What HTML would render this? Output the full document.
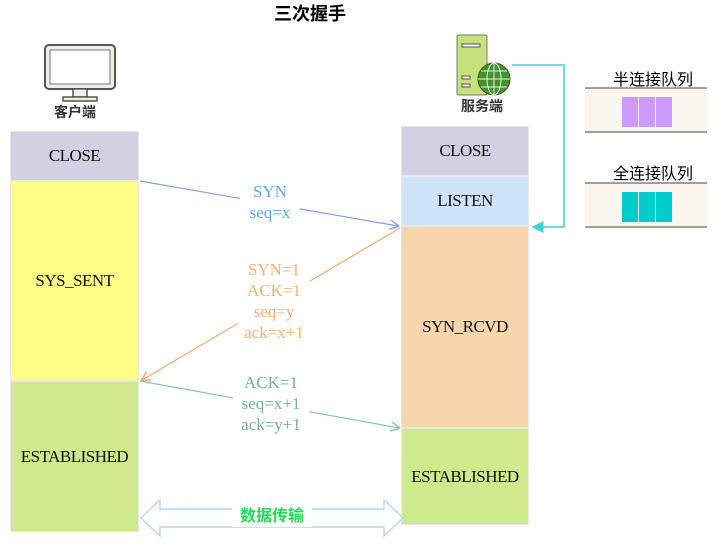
<!DOCTYPE html>
<html><head><meta charset="utf-8"><style>
body{margin:0;width:726px;height:553px;background:#fff;overflow:hidden;position:relative;font-family:"Liberation Serif","Noto Serif CJK SC",serif}
.b{position:absolute;display:flex;align-items:center;justify-content:center;font-size:17px;color:#111;box-sizing:border-box;border:1px solid #e8e8e8;letter-spacing:-0.5px}
.t{position:absolute;text-align:center;font-size:17px;line-height:21px}
.cn{font-family:"Liberation Sans","Noto Sans CJK SC",sans-serif;font-weight:bold}
</style></head><body>
<div class="t cn" style="left:250px;top:4px;width:120px;font-size:18px">三次握手</div>
<div class="b" style="left:10px;top:131px;width:129px;height:50px;background:#d4d0e4">CLOSE</div>
<div class="b" style="left:10px;top:181px;width:129px;height:200px;background:#ffff88">SYS_SENT</div>
<div class="b" style="left:10px;top:381px;width:129px;height:151px;background:#cfe98c">ESTABLISHED</div>
<div class="b" style="left:401px;top:126px;width:128px;height:50px;background:#d4d0e4">CLOSE</div>
<div class="b" style="left:401px;top:176px;width:128px;height:50px;background:#cfe3fb">LISTEN</div>
<div class="b" style="left:401px;top:226px;width:128px;height:202px;background:#f8d6ad">SYN_RCVD</div>
<div class="b" style="left:401px;top:428px;width:128px;height:97px;background:#cfe98c">ESTABLISHED</div>
<div class="t cn" style="left:40px;top:102px;width:70px;font-size:14px;color:#333">客户端</div>
<div class="t cn" style="left:447px;top:96px;width:70px;font-size:14px;color:#333">服务端</div>
<div class="t" style="left:598px;top:70px;width:110px;font-size:16px;font-family:'Liberation Sans','Noto Sans CJK SC',sans-serif">半连接队列</div>
<div class="t" style="left:598px;top:164px;width:110px;font-size:16px;font-family:'Liberation Sans','Noto Sans CJK SC',sans-serif">全连接队列</div>
<svg width="726" height="553" style="position:absolute;left:0;top:0">
<defs>
<marker id="a1" markerWidth="8" markerHeight="8" refX="7" refY="4" orient="auto"><path d="M0,0 L8,4 L0,8" fill="none" stroke="#7fa3e0" stroke-width="1.2"/></marker>
<marker id="a2" markerWidth="8" markerHeight="8" refX="7" refY="4" orient="auto"><path d="M0,0 L8,4 L0,8" fill="none" stroke="#f8a86a" stroke-width="1.2"/></marker>
<marker id="a3" markerWidth="8" markerHeight="8" refX="7" refY="4" orient="auto"><path d="M0,0 L8,4 L0,8" fill="none" stroke="#86c3b4" stroke-width="1.2"/></marker>
<marker id="a4" markerWidth="8" markerHeight="8" refX="7" refY="4" orient="auto"><path d="M0,0 L8,4 L0,8 Z" fill="#3cd3d3"/></marker>
</defs>
<!-- monitor -->
<rect x="45" y="45" width="70" height="44" rx="4" fill="#f0eee8" stroke="#555" stroke-width="2"/>
<rect x="50" y="50" width="60" height="34" fill="#fff" stroke="#777"/>
<rect x="73" y="89" width="14" height="8" fill="#f0eee8" stroke="#555" stroke-width="1.5"/>
<rect x="63" y="97" width="34" height="4" fill="#f0eee8" stroke="#555" stroke-width="1.5"/>
<!-- server -->
<rect x="457" y="35" width="30" height="92" rx="2" fill="#c8e07a" stroke="#777" transform="scale(1,0.65) translate(0,19)"/>
<rect x="457" y="35" width="30" height="92" rx="2" fill="#c8e07a" stroke="#777" style="display:none"/>
<rect x="458" y="35" width="29" height="92" fill="none"/>
<rect x="457" y="35" width="30" height="60" rx="2" fill="#c8e07a" stroke="#777"/>
<rect x="462" y="44" width="18" height="3" fill="#fff" stroke="#555"/>
<rect x="462" y="76" width="8" height="3" fill="#fff" stroke="#555"/>
<rect x="462" y="84" width="8" height="3" fill="#fff" stroke="#555"/>
<circle cx="494" cy="79" r="16" fill="#4a8f2c" stroke="#2c5a18"/>
<ellipse cx="494" cy="79" rx="7" ry="16" fill="none" stroke="#cfe" stroke-width="1"/>
<line x1="478" y1="79" x2="510" y2="79" stroke="#cfe"/><line x1="481" y1="71" x2="507" y2="71" stroke="#cfe"/><line x1="481" y1="87" x2="507" y2="87" stroke="#cfe"/><line x1="494" y1="63" x2="494" y2="95" stroke="#cfe"/>
<polyline points="512,65 564,65 564,227 533,227" fill="none" stroke="#3cd3d3" stroke-width="1.5" marker-end="url(#a4)"/>
<!-- queues -->
<rect x="585" y="88" width="122" height="44" fill="#f8f6ef"/><line x1="585" y1="88" x2="707" y2="88" stroke="#444"/><line x1="585" y1="132" x2="707" y2="132" stroke="#444"/>
<rect x="622" y="97" width="16" height="30" fill="#cc99ff"/><rect x="639" y="97" width="16" height="30" fill="#cc99ff"/><rect x="656" y="97" width="16" height="30" fill="#cc99ff"/>
<rect x="585" y="183" width="122" height="44" fill="#f8f6ef"/><line x1="585" y1="183" x2="707" y2="183" stroke="#444"/><line x1="585" y1="227" x2="707" y2="227" stroke="#444"/>
<rect x="622" y="192" width="16" height="30" fill="#00cccc"/><rect x="639" y="192" width="16" height="30" fill="#00cccc"/><rect x="656" y="192" width="16" height="30" fill="#00cccc"/>
<!-- arrows -->
<line x1="140" y1="181" x2="398" y2="226" stroke="#7fa3e0" stroke-width="1.2" marker-end="url(#a1)"/>
<line x1="400" y1="228" x2="142" y2="380" stroke="#f8a86a" stroke-width="1.2" marker-end="url(#a2)"/>
<line x1="140" y1="381" x2="399" y2="428" stroke="#86c3b4" stroke-width="1.2" marker-end="url(#a3)"/>
<path d="M141,518 L160,500 L160,509 L384,509 L384,500 L403,518 L384,536 L384,527 L160,527 L160,536 Z" fill="#fff" stroke="#a8cff8" stroke-width="1.2"/>
</svg>
<div class="t" style="left:240px;top:181px;width:60px;color:#55a8ff;background:#fff;line-height:21px">SYN<br>seq=x</div>
<div class="t" style="left:238px;top:259px;width:72px;color:#f8b070;line-height:21px;background:#fff">SYN=1<br>ACK=1<br>seq=y<br>ack=x+1</div>
<div class="t" style="left:233px;top:372px;width:76px;color:#6fb3a0;line-height:21px;background:#fff">ACK=1<br>seq=x+1<br>ack=y+1</div>
<div class="t cn" style="left:232px;top:506px;width:80px;color:#22dd55;font-size:16px;background:#fff">数据传输</div>
</body></html>
